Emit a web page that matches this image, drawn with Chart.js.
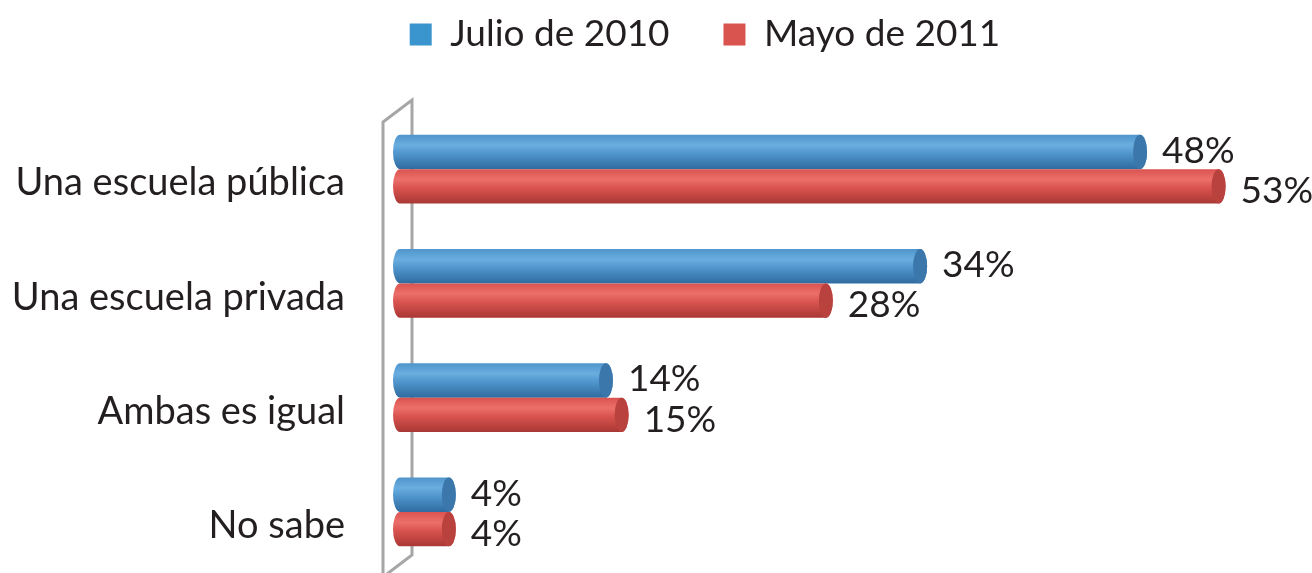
<!DOCTYPE html>
<html>
<head>
<meta charset="utf-8">
<script src="https://cdn.jsdelivr.net/npm/chart.js@4/dist/chart.umd.min.js"></script>
<style>
  html, body { margin: 0; padding: 0; background: #fff; overflow: hidden; }
</style>
</head>
<body>
<canvas id="chartSchool" width="1312" height="573"></canvas>
<script>
const categories = ["Una escuela pública", "Una escuela privada", "Ambas es igual", "No sabe"];
const julio2010 = [48, 34, 14, 4];
const mayo2011 = [53, 28, 15, 4];
const seriesNames = ["Julio de 2010", "Mayo de 2011"];

const FONT = "Lato, 'Open Sans', sans-serif";
const TEXT = "#231f20";

// colours: [legend, light, mid, dark, cap]
const palette = [
  ["#3a95cf", "#6aaee0", "#4f95cc", "#2f6b9f", "#3b77aa"],
  ["#d9534f", "#ec6f6b", "#d9534f", "#a93835", "#b9413e"]
];

// draw the bars as cylinders, plus the gray 3D wall
const cylinders = {
  id: "cylinders",
  beforeDatasetsDraw(chart) {
    const ctx = chart.ctx;
    const area = chart.chartArea;

    // wall
    ctx.save();
    ctx.strokeStyle = "#a6a6a6";
    ctx.lineWidth = 3;
    ctx.beginPath();
    ctx.moveTo(area.left - 10, area.bottom + 10);
    ctx.lineTo(area.left - 10, area.top + 10);
    ctx.lineTo(area.left + 19, area.top - 12);
    ctx.lineTo(area.left + 19, area.bottom - 14);
    ctx.lineTo(area.left - 10, area.bottom + 8);
    ctx.stroke();
    ctx.restore();

    chart.data.datasets.forEach((ds, di) => {
      const meta = chart.getDatasetMeta(di);
      const c = palette[di];
      meta.data.forEach((el) => {
        const x0 = el.base, x1 = el.x;
        const h = el.height, top = el.y - h / 2, bot = el.y + h / 2;
        const rx = 7, ry = h / 2;
        const g = ctx.createLinearGradient(0, top, 0, bot);
        g.addColorStop(0, c[2]);
        g.addColorStop(0.3, c[1]);
        g.addColorStop(0.55, c[2]);
        g.addColorStop(1, c[3]);
        ctx.save();
        ctx.beginPath();
        ctx.moveTo(x0 + rx, top);
        ctx.lineTo(x1 - rx, top);
        ctx.ellipse(x1 - rx, el.y, rx, ry, 0, -Math.PI / 2, Math.PI / 2);
        ctx.lineTo(x0 + rx, bot);
        ctx.ellipse(x0 + rx, el.y, rx, ry, 0, Math.PI / 2, Math.PI * 1.5);
        ctx.closePath();
        ctx.fillStyle = g;
        ctx.fill();
        // end cap
        ctx.beginPath();
        ctx.ellipse(x1 - rx, el.y, rx, ry, 0, 0, Math.PI * 2);
        ctx.fillStyle = c[4];
        ctx.fill();
        ctx.restore();
      });
    });
    return false;
  }
};

const valueLabels = {
  id: "valueLabels",
  afterDraw(chart) {
    const ctx = chart.ctx;
    ctx.save();
    ctx.font = "37px " + FONT;
    ctx.fillStyle = TEXT;
    ctx.textAlign = "left";
    ctx.textBaseline = "middle";
    chart.data.datasets.forEach((ds, di) => {
      chart.getDatasetMeta(di).data.forEach((el, i) => {
        ctx.fillText(ds.data[i] + "%", el.x + 15, el.y + (di === 0 ? -1 : 5));
      });
    });
    ctx.restore();
  }
};

// extra room under the legend, and nudge it right like the original
const legendGap = {
  id: "legendGap",
  beforeInit(chart) {
    const fit = chart.legend.fit;
    chart.legend.fit = function () {
      fit.bind(chart.legend)();
      this.height += 49;
    };
  },
  afterLayout(chart) {
    chart.legend.left += 98;
  }
};

new Chart(document.getElementById("chartSchool"), {
  type: "bar",
  data: {
    labels: categories,
    datasets: [
      { label: seriesNames[0], data: julio2010, backgroundColor: palette[0][0] },
      { label: seriesNames[1], data: mayo2011, backgroundColor: palette[1][0] }
    ]
  },
  options: {
    indexAxis: "y",
    responsive: false,
    animation: false,
    categoryPercentage: 0.6,
    barPercentage: 1.0,
    layout: { padding: { top: 0, bottom: 4, left: 0, right: 0 } },
    plugins: {
      legend: {
        position: "top",
        labels: {
          boxWidth: 22,
          boxHeight: 22,
          padding: 16,
          color: TEXT,
          font: { family: FONT, size: 37 },
          generateLabels(chart) {
            const items = Chart.defaults.plugins.legend.labels.generateLabels(chart);
            items[0].text += "    ";
            return items;
          }
        }
      },
      tooltip: { enabled: false }
    },
    scales: {
      x: {
        display: false,
        min: 0,
        max: 58.5
      },
      y: {
        grid: { display: false },
        border: { display: false },
        ticks: {
          color: TEXT,
          padding: 40,
          labelOffset: 14,
          font: { family: FONT, size: 38 }
        },
        afterFit(scale) {
          scale.width = 393;
          scale.paddingTop = 0;
          scale.paddingBottom = 0;
        }
      }
    }
  },
  plugins: [cylinders, valueLabels, legendGap]
});
</script>
</body>
</html>
